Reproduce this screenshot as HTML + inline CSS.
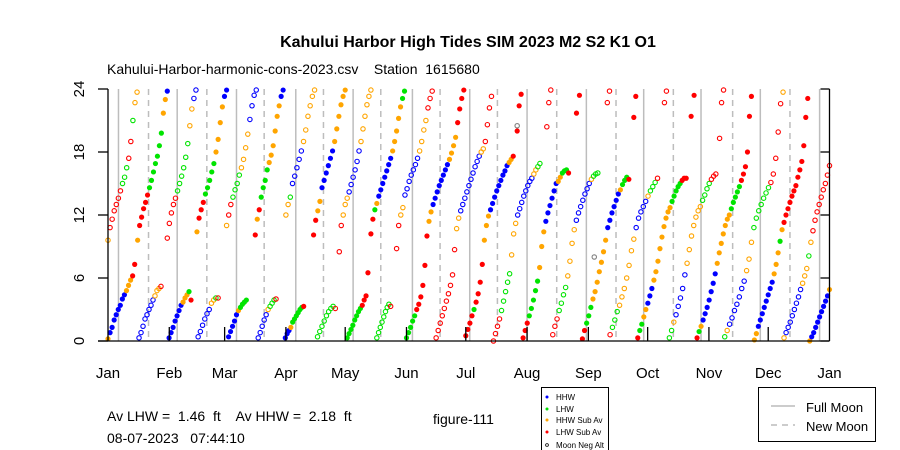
<!DOCTYPE html>
<html><head><meta charset="utf-8"><title>Kahului Harbor High Tides</title>
<style>
body{margin:0;background:#fff;}
svg{display:block;font-family:"Liberation Sans",Arial,sans-serif;}
</style></head>
<body>
<svg id="chart" width="900" height="450" viewBox="0 0 900 450" xmlns="http://www.w3.org/2000/svg">
<rect x="0" y="0" width="900" height="450" fill="#fff"/>
<text x="468" y="47" text-anchor="middle" font-size="16" font-weight="bold">Kahului Harbor High Tides SIM 2023 M2 S2 K1 O1</text>
<text x="107" y="74" font-size="14" xml:space="preserve">Kahului-Harbor-harmonic-cons-2023.csv    Station  1615680</text>
<g id="moons"></g>
<g id="pts"></g>
<g id="axes"></g>
<text x="107" y="421" font-size="14" xml:space="preserve">Av LHW =  1.46  ft    Av HHW =  2.18  ft</text>
<text x="107" y="443" font-size="14" xml:space="preserve">08-07-2023   07:44:10</text>
<text x="433" y="424" font-size="14">figure-111</text>
<g>
<rect x="541.5" y="387.5" width="67" height="70" fill="#fff" stroke="#000" stroke-width="1"/>
<circle cx="547" cy="397" r="1.5" fill="#0000ff"/><text x="556" y="400" font-size="8">HHW</text>
<circle cx="547" cy="409" r="1.5" fill="#00e000"/><text x="556" y="412" font-size="8">LHW</text>
<circle cx="547" cy="420" r="1.5" fill="#ffa500"/><text x="556" y="423" font-size="8">HHW Sub Av</text>
<circle cx="547" cy="432" r="1.5" fill="#ff0000"/><text x="556" y="435" font-size="8">LHW Sub Av</text>
<circle cx="547" cy="445" r="1.4" fill="none" stroke="#000" stroke-width="0.8"/><text x="556" y="448" font-size="8">Moon Neg Alt</text>
</g>
<g>
<rect x="758.5" y="387.5" width="117" height="54" fill="#fff" stroke="#000" stroke-width="1"/>
<line x1="771" y1="406" x2="795" y2="406" stroke="#bbb" stroke-width="1.5"/>
<text x="806" y="412" font-size="13">Full Moon</text>
<line x1="771" y1="425" x2="795" y2="425" stroke="#bbb" stroke-width="1.5" stroke-dasharray="6,5"/>
<text x="806" y="431" font-size="13">New Moon</text>
</g>
</svg>
<script>
// ---- data ----
const monthLabels = ["Jan","Feb","Mar","Apr","May","Jun","Jul","Aug","Sep","Oct","Nov","Dec","Jan"];
const monthStartDays = [0,31,59,90,120,151,181,212,243,273,304,334,365];
const yTicks = [0,6,12,18,24];
const fullMoonDays = [5.3,35,65,95,124,154,183,212,242,271,300,330,360];
const newMoonDays = [20.5,50,79,109,138,168,197,227,257,286,316,345];
// segments of consecutive high-tide times: start day, end day, filled?, hours, colour codes
const segStart = [0,15,30.9,45,61,74.5,89.7,104,121,133,151,181,207,210,237,240,266,268,295,298,324.5,327,355,
  0,15.7,30,45.6,60,76,90,106,117,136,146,166,195,222,225,252.6,254,281.5,284,309.4,312,342,207,246];
const segEnd = [13.5,30,42,60,70,88.6,99,120,131.5,150,180,205,209,233,238.5,263.5,267,292.5,296.5,323.5,325.5,354,365,
  14.7,26.8,44.5,55.7,75,85,104.5,115,133,143,164,194,218.5,224,247.8,253.7,278,282.5,307.5,311.4,341.5,365,207,246];
const segFilled = [1,1,1,1,1,1,1,1,1,1,1,1,1,1,1,1,1,1,1,1,1,1,1,
  0,0,0,0,0,0,0,0,0,0,0,0,0,0,0,0,0,0,0,0,0,0,0,0];
const segHours = [
 [0.2,0.8,1.3,2.0,2.5,3.0,3.4,4.0,4.4,4.8,5.3,5.8,6.2,7.3],
 [9.6,11.0,11.8,12.6,13.2,13.9,14.6,15.3,16.1,16.9,17.6,18.6,19.8,21.7,23.0,23.8],
 [0.3,0.8,1.3,1.9,2.4,2.9,3.4,3.7,4.1,4.4,4.7,3.9],
 [10.4,11.7,12.5,13.2,14.0,14.6,15.3,16.1,16.9,18.0,19.2,20.8,22.3,23.3,23.9],
 [0.4,0.9,1.4,1.9,2.5,2.9,3.2,3.5,3.7,3.9],
 [10.1,11.6,12.5,13.7,14.6,15.3,16.3,17.0,17.7,18.6,20.0,21.4,22.4,23.3,23.9],
 [0.3,0.7,1.0,1.3,1.8,2.1,2.4,2.7,3.0,3.2,3.3],
 [10.1,11.5,12.4,13.3,14.6,15.3,16.0,16.7,17.4,18.1,19.0,20.2,21.4,22.5,23.3,23.9],
 [0.3,0.7,1.1,1.5,2.0,2.4,2.8,3.1,3.4,3.9,4.3,6.5],
 [10.2,11.6,12.5,13.1,13.8,14.4,15.0,15.6,16.2,16.8,17.4,18.1,19.0,20.0,21.2,22.3,23.1,23.8],
 [0.3,0.8,1.3,1.9,2.4,3.0,3.5,4.2,5.3,7.2,10.0,11.4,12.3,13.0,13.6,14.2,14.8,15.3,15.8,16.3,16.8,17.3,17.9,18.6,19.4,20.8,22.1,23.1,23.9],
 [0.5,1.1,1.7,2.4,3.0,3.7,4.5,5.6,7.3,9.6,11.0,11.9,12.5,13.1,13.7,14.3,14.8,15.3,15.8,16.2,16.7,17.0,17.3,17.6],
 [20.0,22.4,23.5],
 [0.3,1.0,1.7,2.4,3.1,3.9,4.8,5.7,7.0,9.0,10.4,11.4,12.2,12.9,13.6,14.3,15.0,15.2,15.6,16.0,16.2,16.3,16.0],
 [21.7,23.4],
 [0.2,1.0,1.7,2.4,3.2,4.0,4.7,5.6,6.6,7.5,8.5,9.6,10.8,11.5,12.2,12.8,13.4,14.0,14.4,14.9,15.3,15.6,15.4],
 [21.3,23.3],
 [0.3,1.0,1.6,2.3,3.0,3.6,4.3,5.0,5.8,6.6,7.6,8.8,9.9,10.9,11.7,12.3,12.7,13.3,13.8,14.3,14.7,15.0,15.3,15.5,15.5],
 [21.4,23.4],
 [0.3,0.9,1.4,2.0,2.6,3.2,3.9,4.7,5.5,6.4,7.4,8.4,9.3,10.2,11.0,11.6,12.0,12.6,13.2,13.7,14.2,14.7,15.3,15.9,16.6,18.0],
 [21.4,23.3],
 [0.1,0.7,1.4,2.0,2.6,3.2,3.8,4.4,5.0,5.6,6.4,7.3,8.4,9.5,10.6,11.3,12.0,12.6,13.2,13.8,14.3,14.8,15.6,16.3,17.1,18.6,21.3,23.1],
 [0.0,0.4,0.8,1.3,1.8,2.3,2.8,3.3,3.8,4.3,4.9],
 [9.6,10.8,11.6,12.4,13.0,13.6,14.3,15.0,15.6,16.5,17.4,19.0,21.0,22.7,23.7],
 [0.3,0.8,1.4,2.1,2.5,3.0,3.4,3.9,4.3,4.8,5.0,5.2],
 [9.8,11.2,12.2,13.0,13.6,14.3,15.0,15.7,16.5,17.5,18.8,20.5,22.1,23.1,23.9],
 [0.4,0.9,1.5,2.1,2.6,3.0,3.6,3.9,4.1,4.1],
 [11.0,12.0,13.0,13.7,14.4,15.0,15.8,16.5,17.3,18.4,19.7,21.1,22.4,23.4,23.9],
 [0.3,0.8,1.4,2.0,2.5,3.0,3.3,3.6,3.9,4.0],
 [12.0,13.0,13.7,15.0,15.7,16.5,17.3,18.1,19.0,20.1,21.4,22.4,23.3,23.9],
 [0.4,0.9,1.4,1.9,2.4,2.8,3.1,3.3,3.1],
 [8.5,11.0,12.0,13.0,13.6,14.2,14.9,15.6,16.3,17.1,18.1,19.0,20.2,21.4,22.5,23.3,23.9],
 [0.3,0.8,1.3,1.8,2.3,2.8,3.2,3.5,3.3],
 [8.8,11.0,12.0,12.7,13.9,14.5,15.2,15.8,16.3,16.8,17.4,18.1,19.0,20.1,21.0,22.2,23.1,23.8],
 [0.3,1.0,1.7,2.4,3.1,3.8,4.5,5.3,6.3,8.7,10.7,11.7,12.4,13.0,13.6,14.2,14.8,15.4,16.0,16.6,17.1,17.6,18.0,18.3,19.0,20.6,22.2,23.3],
 [0.0,0.7,1.4,2.1,2.9,3.8,4.7,5.6,6.4,8.2,10.2,11.2,12.0,12.6,13.2,13.8,14.3,14.8,15.2,15.5,15.9,16.3,16.6,16.9],
 [20.4,22.7,23.9],
 [0.6,1.4,2.1,2.9,3.6,4.4,5.1,6.2,7.6,9.3,10.6,11.5,12.2,12.8,13.4,14.0,14.5,15.0,15.4,15.7,15.9,16.0],
 [22.7,23.8],
 [0.6,1.3,2.0,2.8,3.4,4.2,5.0,6.0,7.2,8.6,9.7,10.8,11.7,12.3,12.8,13.3,13.8,14.3,14.7,15.1,15.5],
 [22.7,23.8],
 [0.3,1.0,1.8,2.5,3.3,4.1,5.0,6.3,7.4,8.7,10.0,11.0,11.8,12.4,12.8,13.4,13.9,14.5,15.0,15.4,15.7,15.9],
 [19.3,22.7,23.9],
 [0.4,1.0,1.6,2.2,2.9,3.5,4.2,5.0,5.7,6.7,7.8,9.4,10.8,11.7,12.4,13.0,13.6,14.1,14.6,15.1,15.9,17.4,19.9,22.6,23.7],
 [0.3,0.8,1.3,1.8,2.4,3.0,3.6,4.2,4.9,5.5,6.2,6.9,8.1,9.4,10.5,11.5,12.3,13.0,13.7,14.4,15.0,15.8,16.7],
 [20.5],
 [8.0]
];
const segCodes = [
 "obbbbbbbbooorr","orrrrrgggggggoob","bbbbbbbooogr","orrrgggggoooobb","bbbbbogggg","rorggggoooooobb",
 "bbboggggggr","rroobbbbbboooooo","ggggggggrrrr","rrgobbbbbbbooooogg","gggggrrrrrroobbbbbbbboooorrrr",
 "rrrrgrrrrooobbbbbbbbboor","rrr","rrrgggggooobbbbbboogggr","rr","rrgggooooooobbbbbbogggr","rr",
 "rggoobbbooooooooogggggrrr","rr","rgobbbbbbbooooooogggggrrrr","rr","oobbbbbbbbooogorrrrrrrrrrrrr","obbbbbbbbbo",
 "orrrrrrgggrrgoo","bbbbbbbbooor","rrrrrggggggoobb","bbbbbboogr","orrggggoooobbbb","bbbbbogggr",
 "oogbbbbboooooo","ggggggggr","rrooobbbbbboooooo","ggggggggr","rroobbbbbbboooorrr",
 "rrrrrrrrrroobbbbbbbbbboorrrr","rrrrgggggooobbbbbbbbooggg".slice(0,24),"rrr","rrrggggoooobbbbbbboggg","rr",
 "rgggooooooobbbbbogggr","rr","ggobbbbboooooooggggrrr","rrr","gobbbbbbbooogggggggrrrrro",
 "obbbbbbbbooogorrrrrrrrr","k","k"
];

// ---- axes ----
const X0 = 108, X1 = 829.5, Y0 = 341, Y1 = 89;
function xScale(d){ return X0 + d * (X1 - X0) / 365; }
function yScale(h){ return Y0 - h * (Y0 - Y1) / 24; }
const NS = "http://www.w3.org/2000/svg";
function mk(tag, attrs, parent){ const e = document.createElementNS(NS, tag); for (const k in attrs) e.setAttribute(k, attrs[k]); parent.appendChild(e); return e; }
const colorMap = {b:"#0000ff", g:"#00e400", o:"#ffa500", r:"#ff0000", k:"#808080"};

const moons = document.getElementById("moons");
fullMoonDays.forEach(d => {
  const l = mk("line", {x1:xScale(d), x2:xScale(d), y1:Y1, y2:Y0, stroke:"#bdbdbd", "stroke-width":1.5}, moons);
  
  
});
newMoonDays.forEach(d => {
  const l = mk("line", {x1:xScale(d), x2:xScale(d), y1:Y1, y2:Y0, stroke:"#bdbdbd", "stroke-width":1.5, "stroke-dasharray":"6,5"}, moons);
  
  
});

const pts = document.getElementById("pts");
segHours.forEach((hours, si) => {
  const n = hours.length;
  const s = segStart[si], e = segEnd[si];
  const codes = segCodes[si];
  hours.forEach((h, i) => {
    const d = n > 1 ? s + (e - s) * i / (n - 1) : s;
    const c = colorMap[codes[i] || codes[codes.length - 1]];
    let el;
    if (segFilled[si]) el = mk("circle", {cx:xScale(d), cy:yScale(h), r:2.6, fill:c}, pts);
    else el = mk("circle", {cx:xScale(d), cy:yScale(h), r:2.2, fill:"none", stroke:c, "stroke-width":1.1}, pts);
    
    
  });
});

const axes = document.getElementById("axes");
const la = mk("line", {x1:X0, x2:X0, y1:Y1, y2:Y0, stroke:"#000", "stroke-width":1.3}, axes);


const ra = mk("line", {x1:X1, x2:X1, y1:Y1, y2:Y0, stroke:"#000", "stroke-width":1.3}, axes);


const ba = mk("line", {x1:98, x2:X1, y1:Y0, y2:Y0, stroke:"#000", "stroke-width":1.3}, axes);


yTicks.forEach(t => {
  const y = yScale(t);
  const tl = mk("line", {x1:98, x2:X0, y1:y, y2:y, stroke:"#000", "stroke-width":1.3}, axes);
  
  
  const tr = mk("line", {x1:X1 - 9, x2:X1, y1:y, y2:y, stroke:"#000", "stroke-width":1.3}, axes);
  
  
  const tx = mk("text", {x:0, y:0, "font-size":15, "text-anchor":"middle", transform:"translate(84," + y + ") rotate(-90)"}, axes);
  tx.textContent = String(t);
  
  
});
monthStartDays.forEach((d, i) => {
  const x = xScale(d);
  if (i > 0 && i < 12) {
    const mt = mk("line", {x1:x, x2:x, y1:Y0 - 14, y2:Y0, stroke:"#000", "stroke-width":1.3}, axes);
    
    
  }
  const lt = mk("text", {x:x, y:378, "font-size":15, "text-anchor":"middle"}, axes);
  lt.textContent = monthLabels[i];
  
  
});
</script>
</body></html>
